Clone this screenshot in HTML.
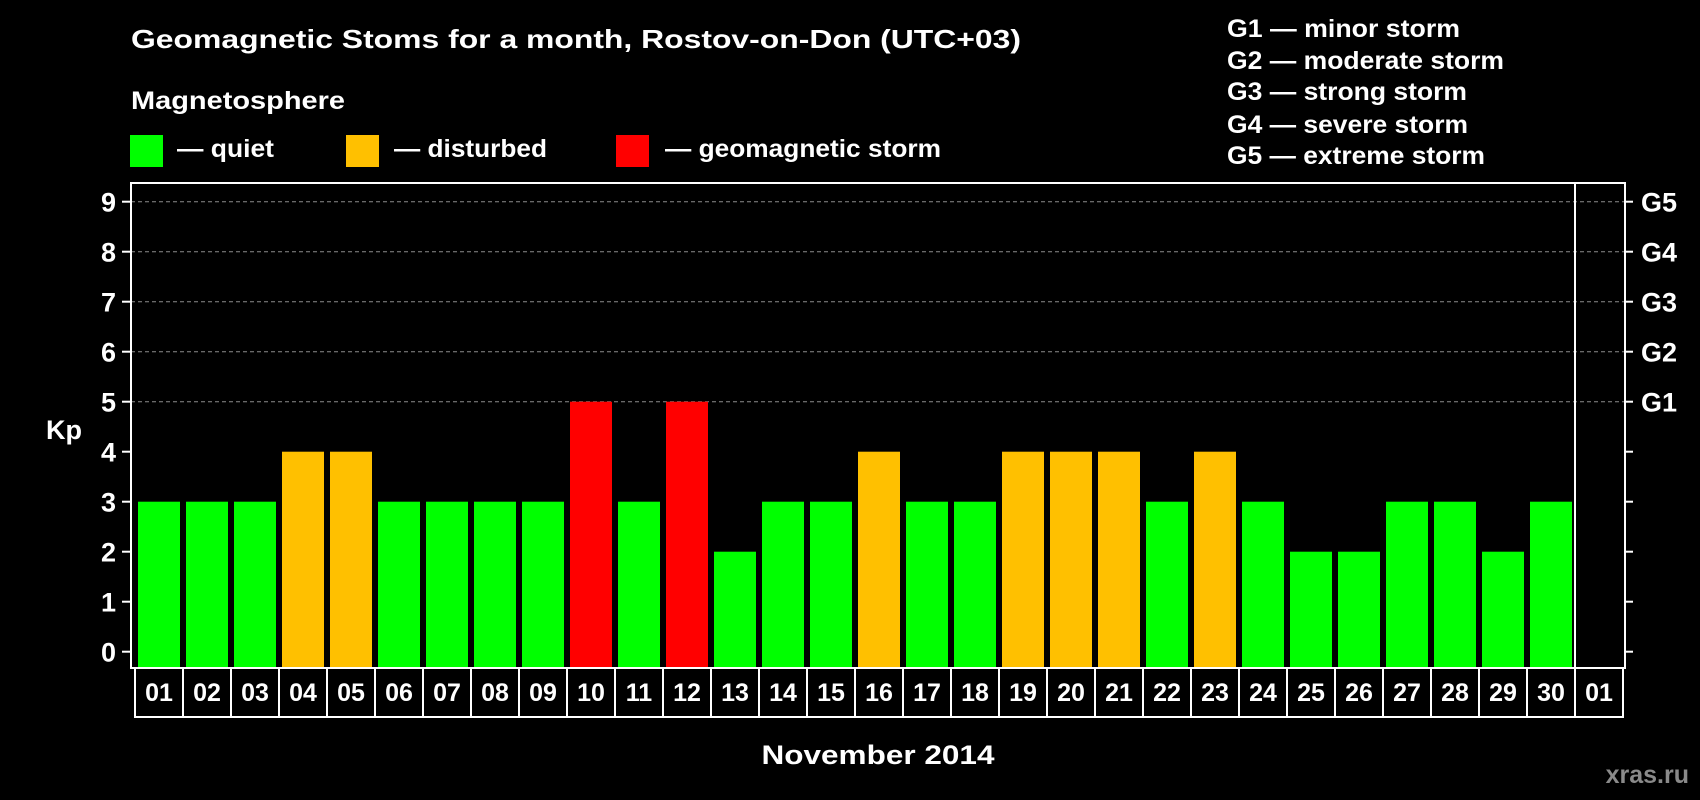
<!DOCTYPE html>
<html><head><meta charset="utf-8"><style>
html,body{margin:0;padding:0;background:#000;}
svg{display:block;font-family:"Liberation Sans",Arial,sans-serif;font-weight:bold;}
</style></head><body>
<svg id="chart" width="1700" height="800" viewBox="0 0 1700 800">
<rect width="1700" height="800" fill="#000"/>
<text x="131" y="48" fill="#fff" font-size="26" textLength="890" lengthAdjust="spacingAndGlyphs">Geomagnetic Stoms for a month, Rostov-on-Don (UTC+03)</text>
<text x="131" y="109" fill="#fff" font-size="25" textLength="214" lengthAdjust="spacingAndGlyphs">Magnetosphere</text>
<g><rect x="130" y="135" width="33" height="32" fill="#00ff00"/><text x="177" y="157" fill="#fff" font-size="25" textLength="97" lengthAdjust="spacingAndGlyphs">— quiet</text></g>
<g><rect x="346" y="135" width="33" height="32" fill="#ffc000"/><text x="394" y="157" fill="#fff" font-size="25" textLength="153" lengthAdjust="spacingAndGlyphs">— disturbed</text></g>
<g><rect x="616" y="135" width="33" height="32" fill="#ff0000"/><text x="665" y="157" fill="#fff" font-size="25" textLength="276" lengthAdjust="spacingAndGlyphs">— geomagnetic storm</text></g>
<g fill="#fff" font-size="25">
<text x="1227" y="37" textLength="233" lengthAdjust="spacingAndGlyphs">G1 — minor storm</text>
<text x="1227" y="69" textLength="277" lengthAdjust="spacingAndGlyphs">G2 — moderate storm</text>
<text x="1227" y="100" textLength="240" lengthAdjust="spacingAndGlyphs">G3 — strong storm</text>
<text x="1227" y="133" textLength="241" lengthAdjust="spacingAndGlyphs">G4 — severe storm</text>
<text x="1227" y="164" textLength="258" lengthAdjust="spacingAndGlyphs">G5 — extreme storm</text>
</g>
<text x="64" y="439" fill="#fff" font-size="27" text-anchor="middle">Kp</text>
<text x="878" y="764" fill="#fff" font-size="27" text-anchor="middle" textLength="233" lengthAdjust="spacingAndGlyphs">November 2014</text>
<text x="1689" y="783" fill="#8a8a8a" font-size="25" text-anchor="end">xras.ru</text>
<g id="grid"></g><g id="bars"></g><g id="axes"></g>
</svg>
<script>
const days = ["01","02","03","04","05","06","07","08","09","10","11","12","13","14","15","16","17","18","19","20","21","22","23","24","25","26","27","28","29","30","01"];
const kpValues = [3,3,3,4,4,3,3,3,3,5,3,5,2,3,3,4,3,3,4,4,4,3,4,3,2,2,3,3,2,3];
const yTicks = [0,1,2,3,4,5,6,7,8,9];
const gLabels = ["G1","G2","G3","G4","G5"];
const gLevels = [5,6,7,8,9];

const NS="http://www.w3.org/2000/svg";
const L=131,R=1625,T=183,B=668,DIV=1575;
function y(v){return 651.7-50*v;}
function slot(i){return 135+48*i;}
function mk(tag,attrs,parent){const e=document.createElementNS(NS,tag);for(const k in attrs)e.setAttribute(k,attrs[k]);parent.appendChild(e);return e;}
const grid=document.getElementById('grid'),bars=document.getElementById('bars'),axes=document.getElementById('axes');
gLevels.forEach(v=>{
  const l=mk('line',{x1:L,x2:R,y1:y(v),y2:y(v),stroke:'#8c8c8c','stroke-width':1,'stroke-dasharray':'4,3'},grid);
  
  
});
kpValues.forEach((v,i)=>{
  const c=v>=5?'#ff0000':(v>=4?'#ffc000':'#00ff00');
  const r=mk('rect',{x:slot(i)+3,y:y(v),width:42,height:B-y(v),fill:c},bars);
  
  
});
const f=mk('rect',{x:L,y:T,width:R-L,height:B-T,fill:'none',stroke:'#fff','stroke-width':2},axes);


const d=mk('line',{x1:DIV,x2:DIV,y1:T,y2:B,stroke:'#fff','stroke-width':2},axes);


yTicks.forEach(v=>{
  mk('line',{x1:122,x2:L,y1:y(v),y2:y(v),stroke:'#fff','stroke-width':2},axes);
  mk('line',{x1:R,x2:1633,y1:y(v),y2:y(v),stroke:'#fff','stroke-width':2},axes);
  const t=mk('text',{x:116,y:y(v)+10,fill:'#fff','font-size':27,'text-anchor':'end'},axes);
  t.textContent=v;
  
  
});
gLabels.forEach((g,i)=>{
  const t=mk('text',{x:1641,y:y(gLevels[i])+10,fill:'#fff','font-size':27},axes);
  t.textContent=g;
  
  
});
days.forEach((dd,i)=>{
  const b=mk('rect',{x:slot(i),y:B,width:48,height:49,fill:'none',stroke:'#fff','stroke-width':2},axes);
  
  
  const t=mk('text',{x:slot(i)+24,y:701,fill:'#fff','font-size':25,'text-anchor':'middle'},axes);
  t.textContent=dd;
  
  
});
</script>
</body></html>
